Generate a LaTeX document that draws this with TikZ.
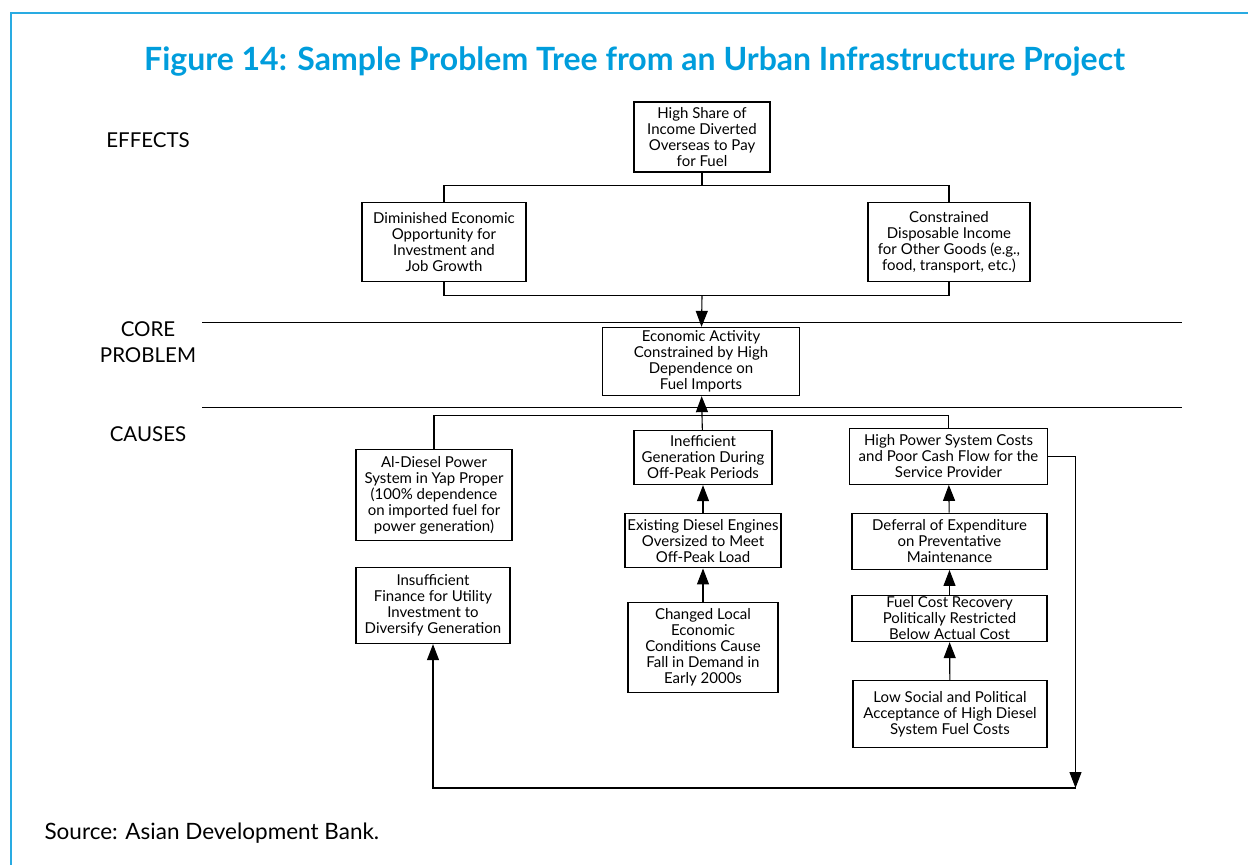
\documentclass[tikz,border=0pt]{standalone}
\usepackage{fontspec}
\setmainfont{Lato}
\usetikzlibrary{arrows.meta}
\definecolor{adbblue}{RGB}{0,157,220}
\definecolor{frameblue}{RGB}{41,171,226}

\begin{document}
\begin{tikzpicture}
  [x=1pt,y=-1pt,line width=1.1pt,
   every node/.style={font=\fontsize{15}{16}\selectfont,align=center,inner sep=0pt},
   box/.style={draw,line width=1.3pt},
   lbl/.style={font=\fontsize{20.5}{25.6}\selectfont,anchor=base},
   arrowtip/.style={-{Triangle[length=16pt,width=12pt]}}]
  \useasboundingbox (0,0) rectangle (1248,865);
  \draw[frameblue,line width=2pt] (11,865) -- (11,12.5) -- (1248,12.5);
  \node[anchor=base,text=adbblue,font=\bfseries\fontsize{32}{36}\selectfont] (title) at (634.5,70.5)
    {Figure 14: Sample Problem Tree from an Urban Infrastructure Project};

  \node[lbl] (eff) at (148,147.7) {EFFECTS};
  \node[lbl] (cp) at (148,362.3) {CORE\\PROBLEM};
  \node[lbl] (cau) at (148,441.7) {CAUSES};
  \draw[line width=1pt] (202,322.3) -- (1182,322.3);
  \draw[line width=1pt] (202,407.3) -- (1182,407.3);

  % effects
  \node[box,minimum width=136,minimum height=70] (e0) at (702,137)
    {High Share of\\Income Diverted\\Overseas to Pay\\for Fuel};
  \node[box,minimum width=164,minimum height=79] (e1) at (444,242)
    {Diminished Economic\\Opportunity for\\Investment and\\Job Growth};
  \node[box,minimum width=162,minimum height=79] (e2) at (949,242)
    {Constrained\\Disposable Income\\for Other Goods (e.g.,\\food, transport, etc.)};

  % core problem
  \node[box,minimum width=197,minimum height=68] (core) at (701,361.5)
    {Economic Activity\\Constrained by High\\Dependence on\\Fuel Imports};

  % causes
  \node[box,minimum width=156,minimum height=91] (c1) at (434,495.3)
    {Al-Diesel Power\\System in Yap Proper\\(100\% dependence\\on imported fuel for\\power generation)};
  \node[box,minimum width=154,minimum height=76] (c2) at (433,605.5)
    {Insufficient\\Finance for Utility\\Investment to\\Diversify Generation};
  \node[box,minimum width=138,minimum height=54] (c3) at (703,457.5)
    {Inefficient\\Generation During\\Off-Peak Periods};
  \node[box,minimum width=156,minimum height=54] (c4) at (703,540.8)
    {Existing Diesel Engines\\Oversized to Meet\\Off-Peak Load};
  \node[box,minimum width=150,minimum height=90] (c5) at (703,647.2)
    {Changed Local\\Economic\\Conditions Cause\\Fall in Demand in\\Early 2000s};
  \node[box,minimum width=198,minimum height=56] (c6) at (948.5,456.2)
    {High Power System Costs\\and Poor Cash Flow for the\\Service Provider};
  \node[box,minimum width=195,minimum height=56] (c7) at (949.5,541.3)
    {Deferral of Expenditure\\on Preventative\\Maintenance};
  \node[box,minimum width=195,minimum height=46] (c8) at (949.5,618.5)
    {Fuel Cost Recovery\\Politically Restricted\\Below Actual Cost};
  \node[box,minimum width=194,minimum height=67] (c9) at (950,714.2)
    {Low Social and Political\\Acceptance of High Diesel\\System Fuel Costs};

  \coordinate (j1) at (702,185.7);
  \coordinate (j2) at (702,295.7);
  \coordinate (j3) at (702,415.5);
  \coordinate (k1) at (1075.5,788);

  \draw (e0) -- (j1);
  \draw (e1.north) |- (j1) -| (e2.north);
  \draw (e1.south) |- (j2) -| (e2.south);
  \draw[arrowtip] (j2) -- (core);
  \draw[arrowtip] (j3) -- (core);
  \draw (c1.north) |- (j3) -| (c6.north);
  \draw (c3) -- (j3);
  \foreach \from/\to in {c5/c4,c4/c3,c9/c8,c8/c7,c7/c6}
    \draw[arrowtip] (\from) -- (\to);
  \draw[arrowtip] (c6.east) -| (k1);
  \draw[arrowtip] (k1) -| (c2.south);

  \node[anchor=base west,font=\fontsize{22.5}{26}\selectfont] (src) at (44,839.5)
    {Source: Asian Development Bank.};
\end{tikzpicture}
\end{document}
